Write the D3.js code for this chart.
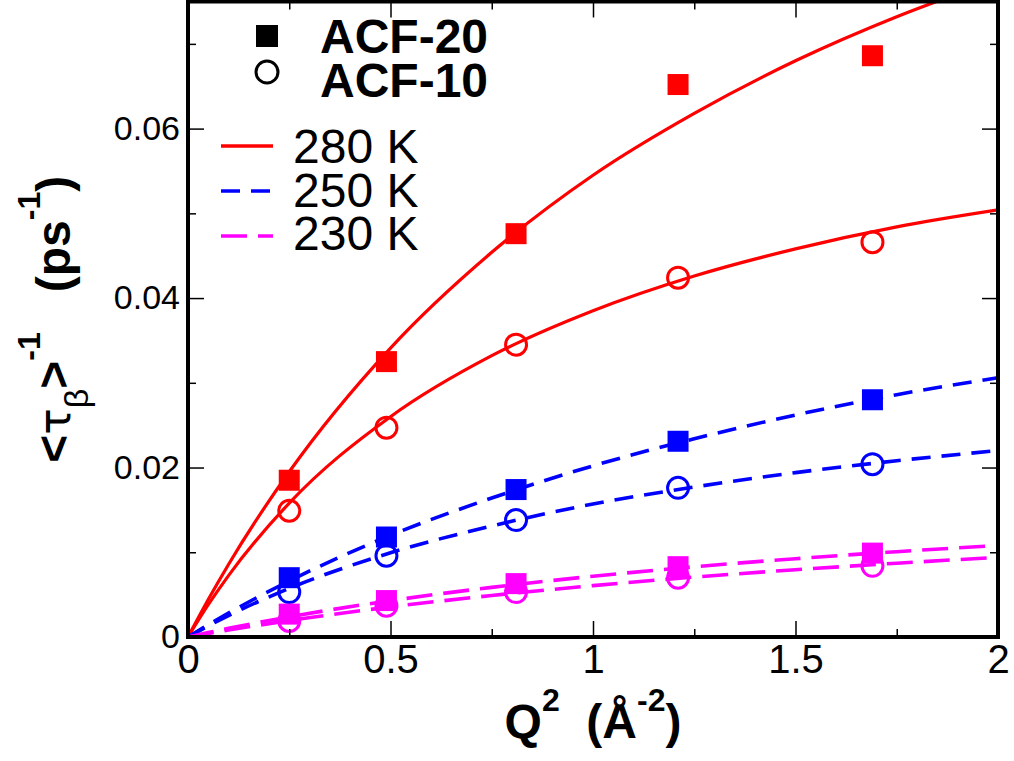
<!DOCTYPE html>
<html><head><meta charset="utf-8">
<script src="https://cdn.jsdelivr.net/npm/d3@7"></script>
<style>body{margin:0;background:#fff}svg{display:block}text{font-family:"Liberation Sans",Arial,Helvetica,sans-serif}</style>
</head><body><svg id="c" width="1014" height="761"></svg>
<script>
// ---- data ----
const qSq = [0.25, 0.49, 0.81, 1.21, 1.69];
const acf20_280 = [0.0185, 0.0325, 0.0476, 0.0652, 0.0686];
const acf10_280 = [0.0149, 0.0247, 0.0345, 0.0424, 0.0466];
const acf20_250 = [0.0070, 0.0118, 0.0174, 0.0231, 0.0280];
const acf10_250 = [0.0053, 0.0096, 0.0138, 0.0176, 0.0204];
const acf20_230 = [0.0027, 0.0043, 0.0063, 0.0083, 0.0099];
const acf10_230 = [0.0019, 0.0037, 0.0053, 0.0070, 0.0084];

const fitX = [0, 0.05, 0.1, 0.25, 0.5, 0.75, 1.0, 1.25, 1.5, 1.75, 2.0];
const fit20_280 = [0, 0.00442, 0.00856, 0.0195, 0.0341, 0.0454, 0.0545, 0.0618, 0.0680, 0.0732, 0.0776];
const fit10_280 = [0, 0.00381, 0.00725, 0.0158, 0.0260, 0.0332, 0.0385, 0.0426, 0.0458, 0.0484, 0.0504];
const fit20_250 = [0, 0.00144, 0.00282, 0.00661, 0.0120, 0.0164, 0.0202, 0.0234, 0.0262, 0.0286, 0.0306];
const fit10_250 = [0, 0.00131, 0.00253, 0.00574, 0.00994, 0.0131, 0.0157, 0.0177, 0.0194, 0.0208, 0.0220];
const fit20_230 = [0, 0.00052, 0.00102, 0.00238, 0.00429, 0.00586, 0.00717, 0.00829, 0.00924, 0.01007, 0.0108];
const fit10_230 = [0, 0.00042, 0.00082, 0.00194, 0.00355, 0.0049, 0.00606, 0.00707, 0.00794, 0.00871, 0.0094];

const xTicks = [0, 0.5, 1, 1.5, 2];
const xMinor = [0.25, 0.75, 1.25, 1.75];
const yTicks = [0, 0.02, 0.04, 0.06];
const yMinor = [0.01, 0.03, 0.05, 0.07];
const tempLabels = ["280 K", "250 K", "230 K"];
const acfLabels = ["ACF-20", "ACF-10"];
const colors = ["#ff0000", "#0000ff", "#ff00ff"];
const dashes = [null, "19,11", "26,11"];

// ---- setup ----
const svg = d3.select("#c");
const L = 188, R = 998, T = 1.5, B = 637;
const x = d3.scaleLinear().domain([0, 2]).range([L, R]);
const y = d3.scaleLinear().domain([0, 0.075]).range([B, T]);

svg.append("defs").append("clipPath").attr("id", "clip")
  .append("rect").attr("x", L).attr("y", T).attr("width", R - L).attr("height", B - T);

const series = [
  {fit: fit20_280, pts: acf20_280, t: 0, shape: "sq"},
  {fit: fit10_280, pts: acf10_280, t: 0, shape: "ci"},
  {fit: fit20_250, pts: acf20_250, t: 1, shape: "sq"},
  {fit: fit10_250, pts: acf10_250, t: 1, shape: "ci"},
  {fit: fit20_230, pts: acf20_230, t: 2, shape: "sq"},
  {fit: fit10_230, pts: acf10_230, t: 2, shape: "ci"}
];

const line = d3.line().x(d => x(d[0])).y(d => y(d[1])).curve(d3.curveMonotoneX);

const gl = svg.append("g").attr("clip-path", "url(#clip)");
series.forEach(s => {
  gl.append("path").datum(fitX.map((v, i) => [v, s.fit[i]]))
    .attr("d", line).attr("fill", "none")
    .attr("stroke", colors[s.t]).attr("stroke-width", s.t === 0 ? 3.2 : 3.6)
    .attr("stroke-dasharray", dashes[s.t]);
});

const SQ = 21, CR = 10.5;
series.filter(s => s.shape === "ci").forEach(s => {
  svg.append("g").selectAll("circle").data(qSq.map((v, i) => [v, s.pts[i]])).join("circle")
    .attr("cx", d => x(d[0])).attr("cy", d => y(d[1])).attr("r", CR)
    .attr("fill", "none").attr("stroke", colors[s.t]).attr("stroke-width", 3);
});
series.filter(s => s.shape === "sq").forEach(s => {
  svg.append("g").selectAll("rect").data(qSq.map((v, i) => [v, s.pts[i]])).join("rect")
    .attr("x", d => x(d[0]) - SQ / 2).attr("y", d => y(d[1]) - SQ / 2)
    .attr("width", SQ).attr("height", SQ).attr("fill", colors[s.t]);
});

// ---- axes ----
function styleAxis(g) {
  g.select(".domain").remove();
  g.selectAll(".tick line").attr("stroke", "#000").attr("stroke-width", 1.5);
}
const fmt = d => String(d);
svg.append("g").attr("transform", `translate(0,${B})`)
  .call(d3.axisBottom(x).tickValues(xTicks).tickSize(-16).tickPadding(8).tickFormat(fmt))
  .call(styleAxis).call(g => g.selectAll("text").attr("font-size", 40).attr("fill", "#000").attr("font-family", "Liberation Sans, Arial, sans-serif"));
svg.append("g").attr("transform", `translate(0,${B})`)
  .call(d3.axisBottom(x).tickValues(xMinor).tickSize(-8).tickFormat(""))
  .call(styleAxis);
svg.append("g").attr("transform", `translate(0,${T})`)
  .call(d3.axisTop(x).tickValues(xTicks).tickSize(-16).tickFormat(""))
  .call(styleAxis);
svg.append("g").attr("transform", `translate(0,${T})`)
  .call(d3.axisTop(x).tickValues(xMinor).tickSize(-8).tickFormat(""))
  .call(styleAxis);

svg.append("g").attr("transform", `translate(${L},0)`)
  .call(d3.axisLeft(y).tickValues(yTicks).tickSize(-16).tickPadding(8).tickFormat(fmt))
  .call(styleAxis).call(g => g.selectAll("text").attr("font-size", 34).attr("fill", "#000").attr("font-family", "Liberation Sans, Arial, sans-serif"));
svg.append("g").attr("transform", `translate(${L},0)`)
  .call(d3.axisLeft(y).tickValues(yMinor).tickSize(-8).tickFormat(""))
  .call(styleAxis);
svg.append("g").attr("transform", `translate(${R},0)`)
  .call(d3.axisRight(y).tickValues(yTicks).tickSize(-16).tickFormat(""))
  .call(styleAxis);
svg.append("g").attr("transform", `translate(${R},0)`)
  .call(d3.axisRight(y).tickValues(yMinor).tickSize(-8).tickFormat(""))
  .call(styleAxis);

svg.append("rect").attr("x", L).attr("y", T).attr("width", R - L).attr("height", B - T)
  .attr("fill", "none").attr("stroke", "#000").attr("stroke-width", 4);

// ---- legend ----
const lg = svg.append("g");
lg.append("rect").attr("x", 267 - 11).attr("y", 36 - 11).attr("width", 22).attr("height", 22).attr("fill", "#000");
lg.append("circle").attr("cx", 267).attr("cy", 72).attr("r", 11).attr("fill", "none").attr("stroke", "#000").attr("stroke-width", 3);
acfLabels.forEach((t, i) => {
  lg.append("text").attr("x", 320).attr("y", 53 + i * 44).attr("font-size", 48).attr("font-weight", "bold").text(t);
});
tempLabels.forEach((t, i) => {
  const yy = 146 + i * 45;
  lg.append("line").attr("x1", 221).attr("x2", 273).attr("y1", yy).attr("y2", yy)
    .attr("stroke", colors[i]).attr("stroke-width", 3.4).attr("stroke-dasharray", dashes[i]);
  lg.append("text").attr("x", 293).attr("y", 163 + i * 43.5).attr("font-size", 48).text(t);
});

// ---- axis titles ----
const xt = svg.append("text").attr("x", (L + R) / 2).attr("y", 738).attr("text-anchor", "middle")
  .attr("font-size", 48).attr("font-weight", "bold").attr("xml:space", "preserve");
xt.append("tspan").text("Q");
xt.append("tspan").attr("font-size", 32).attr("dy", -27).text("2");
xt.append("tspan").attr("dy", 27).text("  (Å");
xt.append("tspan").attr("font-size", 32).attr("dy", -27).text("-2");
xt.append("tspan").attr("dy", 27).text(")");

const yt = svg.append("text").attr("transform", `translate(70,${(T + B) / 2}) rotate(-90)`)
  .attr("text-anchor", "middle").attr("font-size", 48).attr("font-weight", "bold").attr("xml:space", "preserve");
yt.append("tspan").text("<");
yt.append("tspan").attr("font-weight", "normal").attr("font-family", "DejaVu Sans, sans-serif").attr("font-size", 44).text("τ");
yt.append("tspan").attr("font-weight", "normal").attr("font-size", 34).attr("dy", 18).text("β");
yt.append("tspan").attr("dy", -18).text(">");
yt.append("tspan").attr("font-size", 32).attr("dy", -30).text("-1");
yt.append("tspan").attr("dy", 30).text("   (ps");
yt.append("tspan").attr("font-size", 32).attr("dy", -30).text("-1");
yt.append("tspan").attr("dy", 30).text(")");
</script></body></html>
